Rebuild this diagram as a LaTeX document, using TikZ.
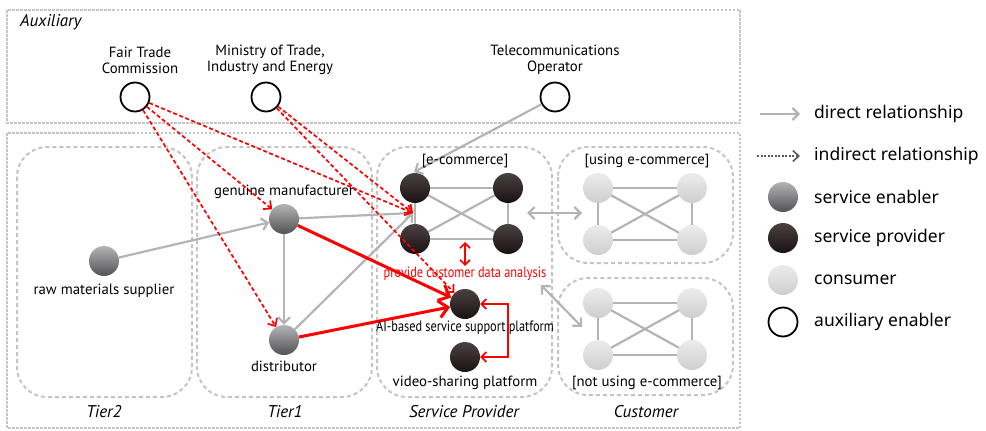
\documentclass[tikz,border=0pt]{standalone}
\usepackage{fontspec}
\setmainfont{PT Sans}
\newfontfamily\legfont{Noto Sans}
\newfontfamily\narrowfont[FakeStretch=0.82]{PT Sans}
\usetikzlibrary{arrows.meta,backgrounds}

% node fills
\definecolor{enTop}{RGB}{180,180,182}
\definecolor{enBot}{RGB}{82,82,84}
\definecolor{prTop}{RGB}{74,66,66}
\definecolor{prBot}{RGB}{26,18,18}
\definecolor{coTop}{RGB}{236,236,236}
\definecolor{coBot}{RGB}{206,206,206}
\definecolor{lineGray}{RGB}{180,180,180}
\definecolor{boxGray}{RGB}{196,196,196}

\tikzset{
  ballnode/.style={circle, minimum size=30pt, inner sep=0pt},
  enabler/.style={ballnode, top color=enTop, bottom color=enBot},
  provider/.style={ballnode, top color=prTop, bottom color=prBot},
  consumer/.style={ballnode, top color=coTop, bottom color=coBot},
  auxnode/.style={ballnode, minimum size=29pt, draw=black, line width=1.8pt, fill=white},
  label/.style={font=\fontsize{14.8}{16}\selectfont, inner sep=0pt, align=center},
  narrowlabel/.style={label, font=\narrowfont\fontsize{15}{17}\selectfont},
  grplabel/.style={font=\fontsize{17}{19}\selectfont\itshape, inner sep=0pt},
  legtext/.style={font=\legfont\fontsize{17.5}{19}\selectfont, inner sep=0pt, anchor=west},
  outerbox/.style={draw=boxGray, line width=2pt, dash pattern=on 2.5pt off 1.5pt},
  grpbox/.style={draw=boxGray, line width=2pt, dash pattern=on 4pt off 3pt, rounded corners=30pt},
  link/.style={draw=lineGray, line width=2.2pt},
  direct/.style={link, -{Straight Barb[length=6pt,width=12pt]}},
  both/.style={link, {Straight Barb[length=6pt,width=12pt]}-{Straight Barb[length=6pt,width=12pt]}},
  indirect/.style={draw=red, line width=1.7pt, dash pattern=on 4pt off 2.5pt,
    -{Straight Barb[length=6pt,width=11pt]}},
  redarrow/.style={draw=red, line width=3pt, -{Straight Barb[length=9pt,width=17pt]}},
  redboth/.style={draw=red, line width=1.7pt,
    {Straight Barb[length=5pt,width=10pt]}-{Straight Barb[length=5pt,width=10pt]}},
}

\begin{document}
\begin{tikzpicture}[x=1pt, y=-1pt]
\useasboundingbox (0,0) rectangle (986,431);

% frames
\begin{scope}[on background layer]
\draw[outerbox] (7,10) rectangle (740,123);
\draw[outerbox] (7,133) rectangle (740,428);
\draw[grpbox] (17,147) rectangle (192,397);
\draw[grpbox] (197,147) rectangle (372,397);
\draw[grpbox] (377,147) rectangle (552,397);
\draw[grpbox] (558,147) rectangle (733,263);
\draw[grpbox] (558,278) rectangle (733,395);
\end{scope}

% frame titles
\node[grplabel, anchor=west] (tAux) at (20,22) {Auxiliary};
\node[grplabel] (tT2) at (104,412) {Tier2};
\node[grplabel] (tT1) at (285,412) {Tier1};
\node[grplabel] (tSP) at (464,412) {Service Provider};
\node[grplabel] (tCu) at (646,412) {Customer};

% auxiliary enablers
\node[auxnode] (ftc) at (135,97) {};
\node[auxnode] (mote) at (266,97) {};
\node[auxnode] (tel) at (555,97) {};
\node[label] (lftc) at (140,60) {Fair Trade\\Commission};
\node[label] (lmote) at (270,60) {Ministry of Trade,\\Industry and Energy};
\node[label] (ltel) at (555,60) {Telecommunications\\Operator};

% service enablers
\node[enabler] (raw) at (104,261) {};
\node[enabler] (gen) at (284,219) {};
\node[enabler] (dist) at (284,340) {};

% service providers
\node[provider] (e1) at (415,188) {};
\node[provider] (e2) at (508,188) {};
\node[provider] (e3) at (415,239) {};
\node[provider] (e4) at (508,239) {};
\node[provider] (ai) at (465,304) {};
\node[provider] (vid) at (465,357) {};

% consumers
\node[consumer] (u1) at (598,188) {};
\node[consumer] (u2) at (692,188) {};
\node[consumer] (u3) at (598,240) {};
\node[consumer] (u4) at (692,240) {};
\node[consumer] (n1) at (598,303) {};
\node[consumer] (n2) at (692,303) {};
\node[consumer] (n3) at (598,355) {};
\node[consumer] (n4) at (692,355) {};

% meshes inside the groups
\begin{scope}[on background layer]
\foreach \a/\b/\c/\d in {e1/e2/e3/e4, u1/u2/u3/u4, n1/n2/n3/n4}{
  \draw[link] (\a.center) -- (\b.center) -- (\d.center) -- (\c.center) -- cycle;
  \draw[link] (\a.center) -- (\d.center);
  \draw[link] (\b.center) -- (\c.center);
}
\end{scope}

% connection points
\coordinate (ein) at (413,213);
\coordinate (telend) at (414,172);
\coordinate (ecR) at (527,213);
\coordinate (ucL) at (582,213);
\coordinate (pcaR) at (541,285);
\coordinate (ncL) at (582,327);
\coordinate (vA) at (465,242);
\coordinate (vB) at (465,266);

% direct relationships
\draw[direct] (raw) -- (gen);
\draw[direct] (gen) -- (dist);
\draw[direct] (gen) -- (ein);
\draw[direct] (dist) -- (ein);
\draw[direct] (tel) -- (telend);
\draw[both] (ecR) -- (ucL);
\draw[both] (pcaR) -- (ncL);

% indirect relationships
\draw[indirect] (ftc) -- (gen);
\draw[indirect] (ftc) -- (dist);
\draw[indirect] (ftc) -- (ein);
\draw[indirect] (mote) -- (ein);
\draw[indirect] (mote) -- (ai);

% data flows to the AI platform
\draw[redarrow] (gen) -- (ai);
\draw[redarrow] (dist) -- (ai);
\draw[redboth] (ai.east) -- ++(28,0) |- (vid.east);
\draw[redboth] (vA) -- (vB);

% node labels
\node[label] (lraw) at (104,291) {raw materials supplier};
\node[label] (lgen) at (284,192) {genuine manufacturer};
\node[label] (ldist) at (284,366) {distributor};
\node[label] (lec) at (465,161) {[e-commerce]};
\node[narrowlabel, text=red] (lpca) at (465,274) {provide customer data analysis};
\node[narrowlabel] (lai) at (465,328) {AI-based service support platform};
\node[label] (lvid) at (465,383) {video-sharing platform};
\node[label] (luse) at (647,161) {[using e-commerce]};
\node[label] (lnot) at (647,383) {[not using e-commerce]};

% legend
\coordinate (la1) at (760,114);
\coordinate (la2) at (800,114);
\coordinate (lb1) at (757,156);
\coordinate (lb2) at (800,156);
\draw[direct] (la1) -- (la2);
\draw[draw=black!65, line width=1.6pt, dash pattern=on 2pt off 1.5pt,
  -{Straight Barb[length=6pt,width=11pt]}] (lb1) -- (lb2);
\node[enabler] (kEn) at (783,197) {};
\node[provider] (kPr) at (783,238) {};
\node[consumer] (kCo) at (783,280) {};
\node[auxnode] (kAu) at (783,322) {};
\node[legtext] (tDi) at (814,114) {direct relationship};
\node[legtext] (tIn) at (814,156) {indirect relationship};
\node[legtext] (tEn) at (814,197) {service enabler};
\node[legtext] (tPr) at (814,238) {service provider};
\node[legtext] (tCo) at (814,280) {consumer};
\node[legtext] (tAu) at (814,322) {auxiliary enabler};
\end{tikzpicture}
\end{document}
